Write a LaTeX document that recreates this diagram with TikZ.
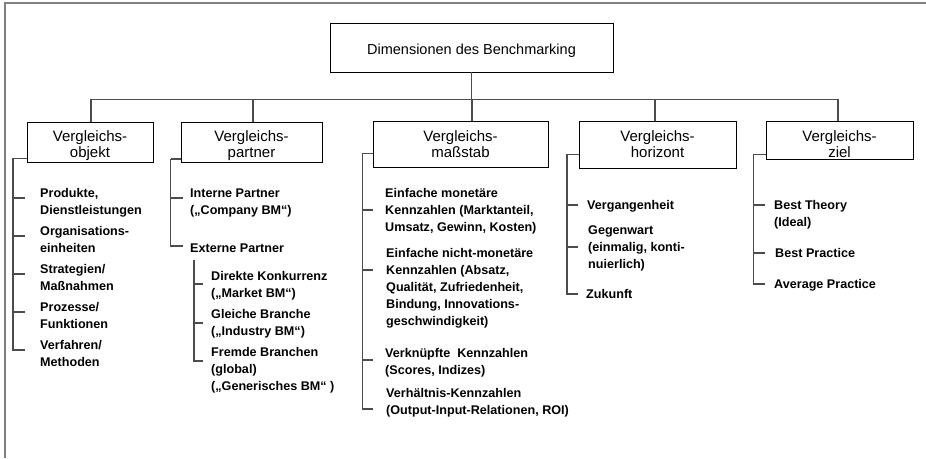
\documentclass[tikz,border=0pt]{standalone}
\usepackage{fontspec}
\setmainfont{Liberation Sans}
\begin{document}
\begin{tikzpicture}[x=1pt,y=-1pt,
  conn/.style={draw=black!70,line width=1.2pt},
  frameline/.style={draw=black!50,line width=2pt},
  dimbox/.style={draw=black,line width=0.9pt,inner sep=0pt},
  boxlabel/.style={font=\fontsize{15}{16.5}\selectfont,align=center,anchor=north,inner sep=0pt},
  itemtext/.style={font=\bfseries\fontsize{12.6}{17}\selectfont,align=left,anchor=north west,inner sep=0pt}]

\useasboundingbox (0,0) rectangle (926,458);

% outer frame (top and left edge)
\draw[frameline] (5,458) -- (5,3) -- (926,3);

% root box
\node[dimbox,minimum width=283pt,minimum height=49pt,
      font=\fontsize{14.5}{18}\selectfont,text height=13.4pt,text depth=0pt]
      (top) at (471.5,47.5) {Dimensionen des Benchmarking};

% dimension boxes
\node[dimbox,minimum width=126pt,minimum height=40pt] (objBox) at (90,142) {};
\node[dimbox,minimum width=141pt,minimum height=40pt] (parBox) at (251.5,142.5) {};
\node[dimbox,minimum width=175pt,minimum height=46pt] (masBox) at (460.5,144) {};
\node[dimbox,minimum width=157pt,minimum height=47pt] (horBox) at (657.5,144.5) {};
\node[dimbox,minimum width=147pt,minimum height=38pt] (zieBox) at (839.5,140) {};

\node[boxlabel] (objLbl) at (90,130.3)    {Vergleichs-\\objekt};
\node[boxlabel] (parLbl) at (251.5,130.3) {Vergleichs-\\partner};
\node[boxlabel] (masLbl) at (460.5,130.3) {Vergleichs-\\maßstab};
\node[boxlabel] (horLbl) at (657.5,130.3) {Vergleichs-\\horizont};
\node[boxlabel] (zieLbl) at (839.5,130.3) {Vergleichs-\\ziel};

% bus from the root to the dimension boxes
\coordinate (bj) at ([yshift=-27pt]top.south);
\coordinate (d1) at ([xshift=1pt]objBox.north);
\coordinate (d2) at ([xshift=1.5pt]parBox.north);
\coordinate (d3) at ([xshift=11.5pt]masBox.north);
\coordinate (d4) at ([xshift=-2.5pt]horBox.north);
\coordinate (d5) at ([xshift=-1.5pt]zieBox.north);
\draw[conn] (top.south) -- (bj);
\draw[conn] (d1 |- bj) -- (d5 |- bj);
\foreach \d in {d1,d2,d3,d4,d5}
  \draw[conn] (\d |- bj) -- (\d);

% items: Vergleichsobjekt
\node[itemtext] (p1) at (40,188.3) {Produkte,\\Dienstleistungen};
\node[itemtext] (p2) at (40,226.3) {Organisations-\\einheiten};
\node[itemtext] (p3) at (40,264.3) {Strategien/\\Maßnahmen};
\node[itemtext] (p4) at (40,302.3) {Prozesse/\\Funktionen};
\node[itemtext] (p5) at (40,340.3) {Verfahren/\\Methoden};

% items: Vergleichspartner
\node[itemtext] (q1) at (190,188.3) {Interne Partner\\(„Company BM“)};
\node[itemtext] (q2) at (190,243.3) {Externe Partner};
\node[itemtext] (r1) at (211,271.3) {Direkte Konkurrenz\\(„Market BM“)};
\node[itemtext] (r2) at (211,309.3) {Gleiche Branche\\(„Industry BM“)};
\node[itemtext] (r3) at (211,347.3) {Fremde Branchen\\(global)\\(„Generisches BM“ )};

% items: Vergleichsmaßstab
\node[itemtext] (s1) at (385,188.3) {Einfache monetäre\\Kennzahlen (Marktanteil,\\Umsatz, Gewinn, Kosten)};
\node[itemtext] (s2) at (386,248.3) {Einfache nicht-monetäre\\Kennzahlen (Absatz,\\Qualität, Zufriedenheit,\\Bindung, Innovations-\\geschwindigkeit)};
\node[itemtext] (s3) at (385,348.3) {Verknüpfte~\ Kennzahlen\\(Scores, Indizes)};
\node[itemtext] (s4) at (386,388.3) {Verhältnis-Kennzahlen\\(Output-Input-Relationen, ROI)};

% items: Vergleichshorizont
\node[itemtext] (h1) at (587,200.3) {Vergangenheit};
\node[itemtext] (h2) at (588,225.3) {Gegenwart\\(einmalig, konti-\\nuierlich)};
\node[itemtext] (h3) at (586,289.3) {Zukunft};

% items: Vergleichsziel
\node[itemtext] (z1) at (774,200.3) {Best Theory\\(Ideal)};
\node[itemtext] (z2) at (775,248.3) {Best Practice};
\node[itemtext] (z3) at (774,279.3) {Average Practice};

% trunk heads beside each dimension box
\coordinate (t1) at ([xshift=-13.5pt,yshift=4pt]objBox.south west);
\coordinate (t2) at ([xshift=-10pt,yshift=4pt]parBox.south west);
\coordinate (t3) at ([xshift=-10pt,yshift=14pt]masBox.south west);
\coordinate (t4) at ([xshift=-11.5pt,yshift=14pt]horBox.south west);
\coordinate (t5) at ([xshift=-12pt,yshift=5pt]zieBox.south west);
\coordinate (t6) at ([xshift=4pt,yshift=-16.7pt]q2.north west);

\draw[conn] ([yshift=4pt]objBox.south west) -- (t1);
\draw[conn] ([yshift=4pt]parBox.south west) -- (t2);
\draw[conn] ([yshift=14pt]masBox.south west) -- (t3);
\draw[conn] ([yshift=14pt]horBox.south west) -- (t4);
\draw[conn] ([yshift=5pt]zieBox.south west) -- (t5);

% branches to the items
\draw[conn,shorten >=15pt] (t1) |- ([yshift=-9.7pt]p1.north west);
\draw[conn,shorten >=15pt] (t1) |- ([yshift=-9.7pt]p2.north west);
\draw[conn,shorten >=15pt] (t1) |- ([yshift=-9.7pt]p3.north west);
\draw[conn,shorten >=15pt] (t1) |- ([yshift=-9.7pt]p4.north west);
\draw[conn,shorten >=15pt] (t1) |- ([yshift=-9.7pt]p5.north west);

\draw[conn,shorten >=7pt] (t2) |- ([yshift=-9.7pt]q1.north west);
\draw[conn,shorten >=7pt] (t2) |- ([yshift=-2.7pt]q2.north west);
\draw[conn,shorten >=8pt] (t6) |- ([yshift=-12.7pt]r1.north west);
\draw[conn,shorten >=8pt] (t6) |- ([yshift=-13.7pt]r2.north west);
\draw[conn,shorten >=8pt] (t6) |- ([yshift=-13.7pt]r3.north west);

\draw[conn,shorten >=12pt] (t3) |- ([yshift=-21.7pt]s1.north west);
\draw[conn,shorten >=13pt] (t3) |- ([yshift=-21.7pt]s2.north west);
\draw[conn,shorten >=12pt] (t3) |- ([yshift=-11.7pt]s3.north west);
\draw[conn,shorten >=13pt] (t3) |- ([yshift=-20.7pt]s4.north west);

\draw[conn,shorten >=9pt] (t4) |- ([yshift=-4.7pt]h1.north west);
\draw[conn,shorten >=10pt] (t4) |- ([yshift=-21.7pt]h2.north west);
\draw[conn,shorten >=8pt] (t4) |- ([yshift=-4.7pt]h3.north west);

\draw[conn,shorten >=9pt] (t5) |- ([yshift=-4.7pt]z1.north west);
\draw[conn,shorten >=10pt] (t5) |- ([yshift=-4.7pt]z2.north west);
\draw[conn,shorten >=9pt] (t5) |- ([yshift=-4.7pt]z3.north west);

\end{tikzpicture}
\end{document}
